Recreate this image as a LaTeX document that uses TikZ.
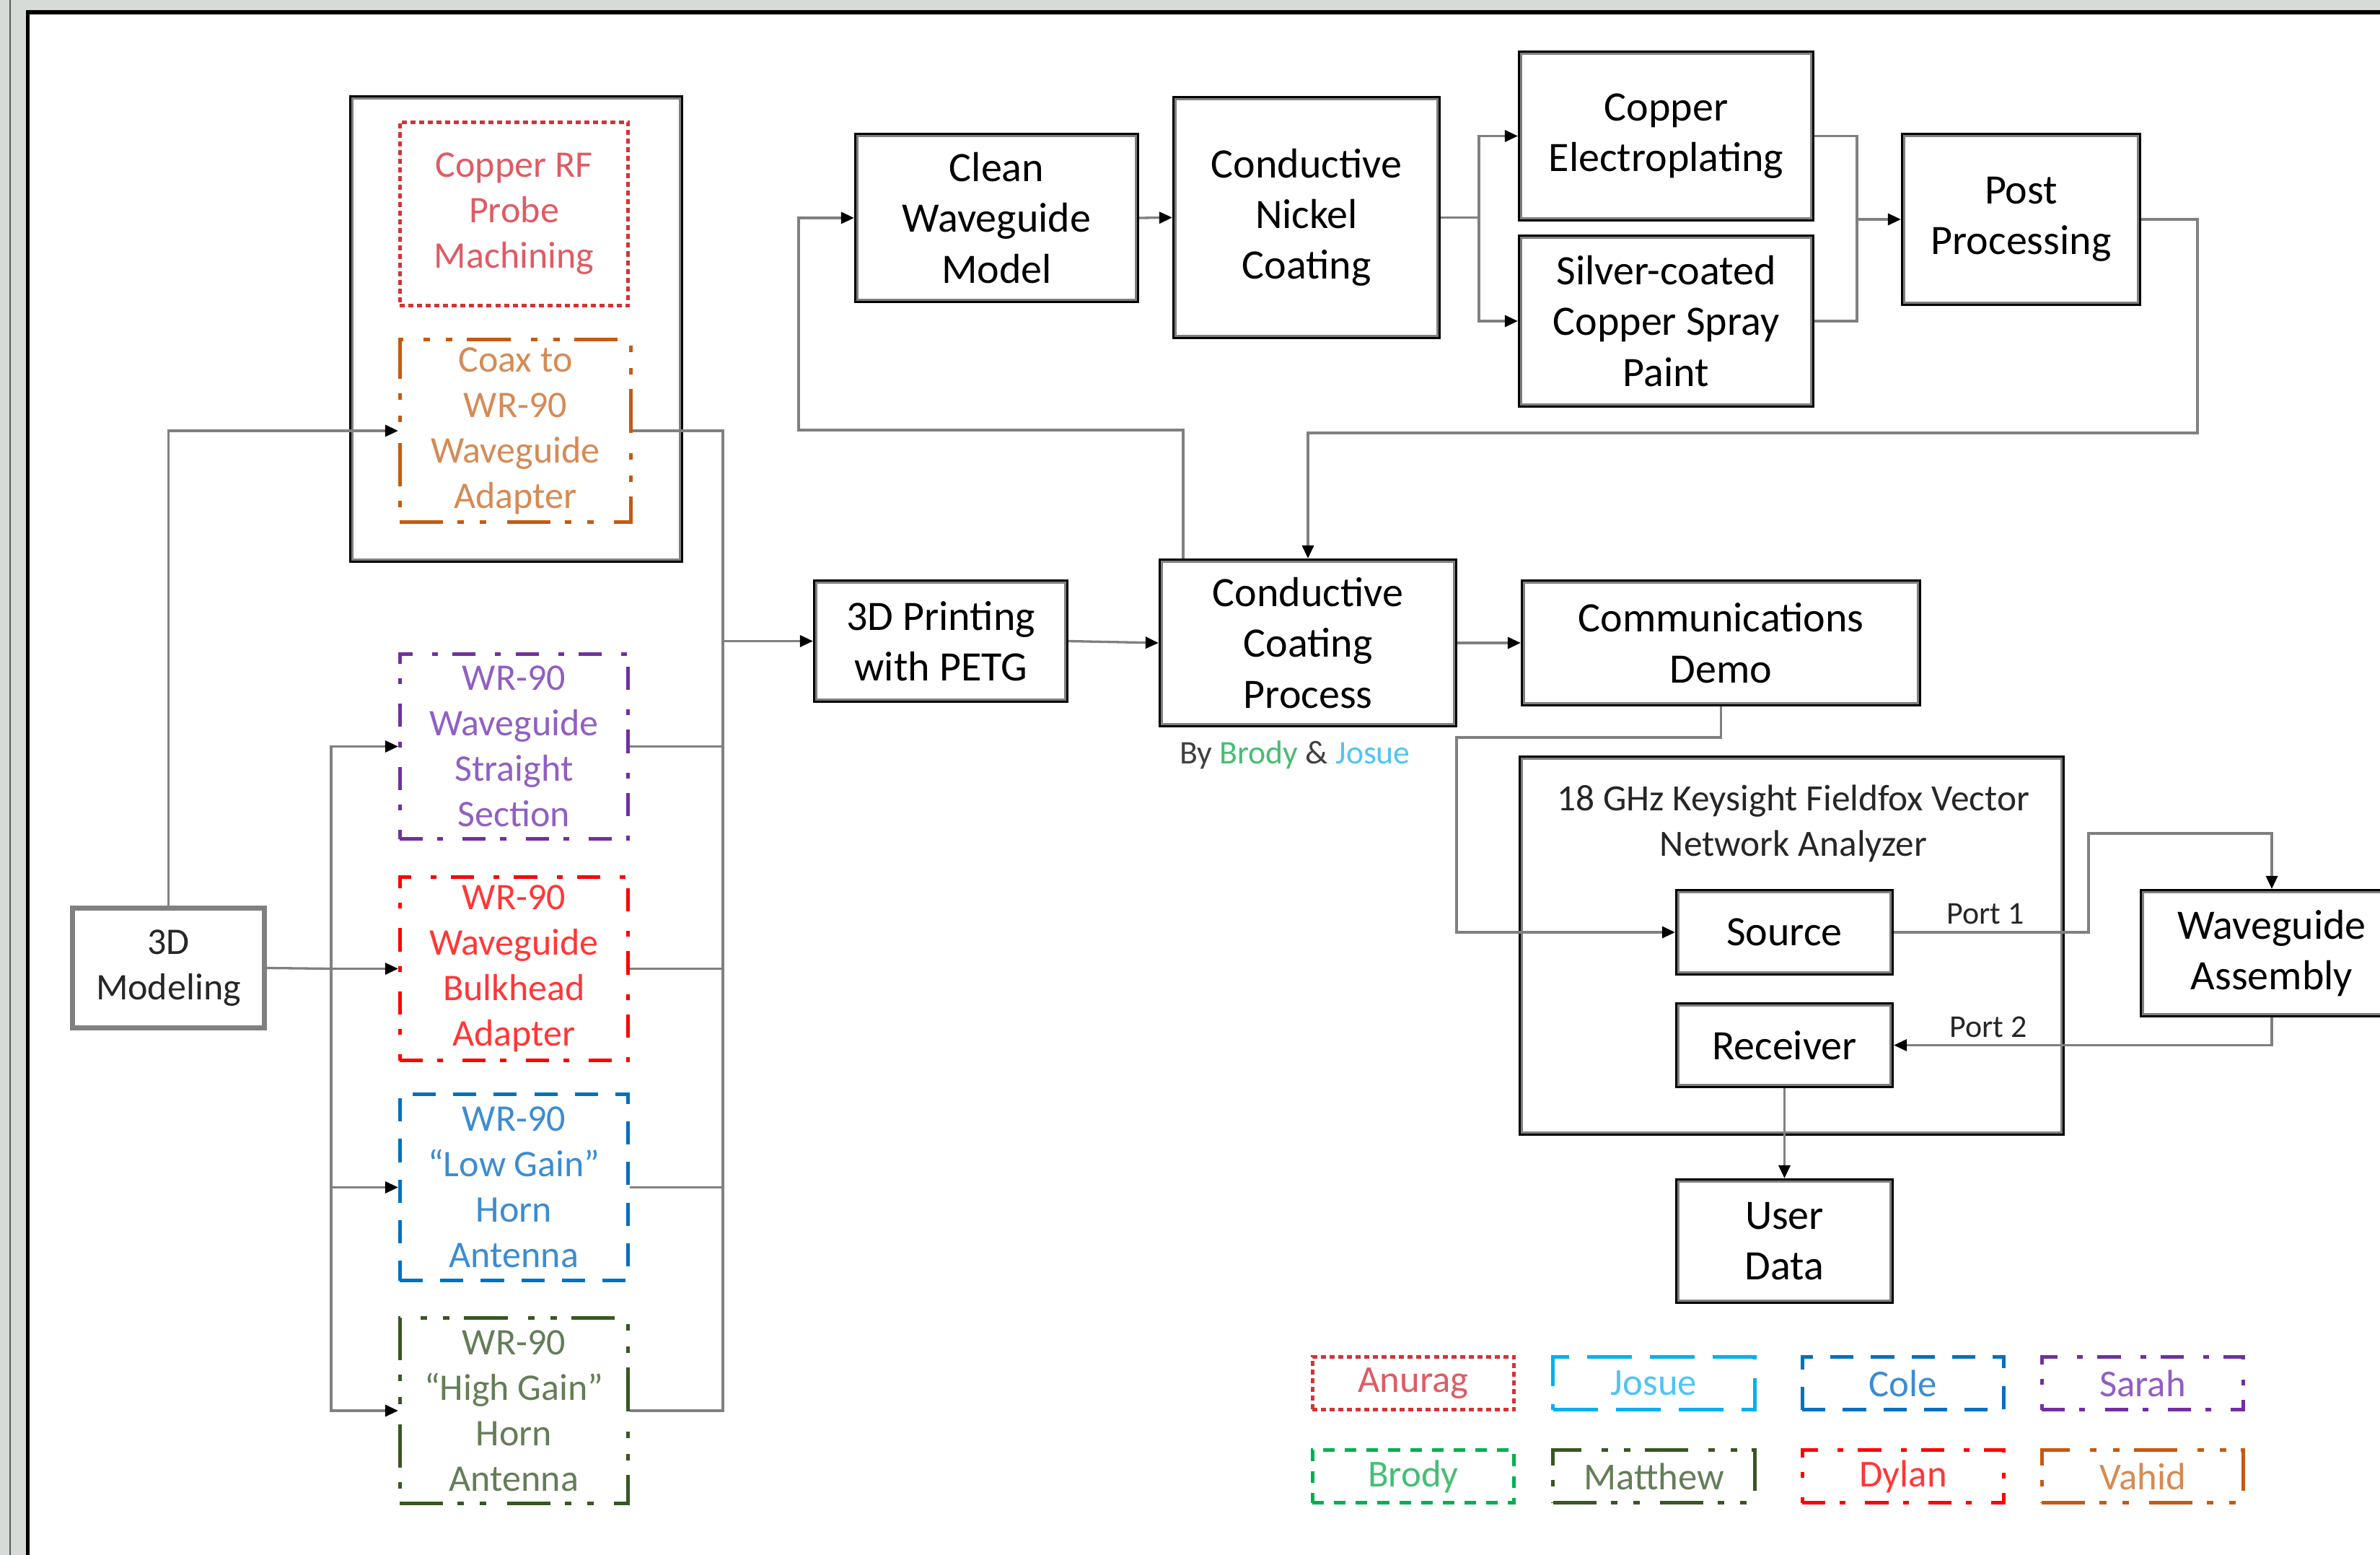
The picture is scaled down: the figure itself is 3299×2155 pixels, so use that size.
\documentclass[tikz,border=0pt]{standalone}
\usepackage{fontspec}
\setmainfont{Carlito}
\usetikzlibrary{arrows.meta,calc}
\definecolor{bandgray}{RGB}{214,219,216}
\definecolor{lngray}{RGB}{128,128,128}
\definecolor{cAnu}{RGB}{209,52,56}
\definecolor{tAnu}{RGB}{222,92,100}
\definecolor{cJos}{RGB}{0,176,240}
\definecolor{tJos}{RGB}{80,196,244}
\definecolor{cCol}{RGB}{0,112,192}
\definecolor{tCol}{RGB}{60,140,210}
\definecolor{cSar}{RGB}{112,48,160}
\definecolor{tSar}{RGB}{145,95,195}
\definecolor{cBro}{RGB}{0,176,80}
\definecolor{tBro}{RGB}{70,190,115}
\definecolor{cMat}{RGB}{56,87,35}
\definecolor{tMat}{RGB}{100,125,88}
\definecolor{cDyl}{RGB}{255,0,0}
\definecolor{tDyl}{RGB}{255,55,55}
\definecolor{cVah}{RGB}{197,90,17}
\definecolor{tVah}{RGB}{214,138,85}
\newcommand\fMain{\fontsize{16.5}{20}\selectfont}
\newcommand\fCol{\fontsize{14.8}{17.9}\selectfont}
\newcommand\fLeg{\fontsize{15}{18}\selectfont}
\newcommand\fVna{\fontsize{14.6}{17.9}\selectfont}
\newcommand\fPort{\fontsize{12.5}{15}\selectfont}
\newcommand\fBy{\fontsize{13}{15}\selectfont}
\newcommand\ingray[1]{\draw[lngray,line width=0.025cm] ([shift={(0.045cm,-0.045cm)}]#1.north west) rectangle ([shift={(-0.045cm,0.045cm)}]#1.south east);}
\begin{document}
\begin{tikzpicture}[x=0.01cm,y=-0.01cm,
  mbox/.style={draw=black,line width=0.06cm,fill=white,inner sep=0pt,align=center,font=\fMain,text=black},
  cbox/.style={line width=0.05cm,inner sep=0pt,align=center,font=\fCol,minimum width=3.16cm},
  lbox/.style={line width=0.05cm,inner sep=0pt,align=center,font=\fLeg,minimum width=2.79cm,minimum height=0.73cm},
  conn/.style={draw=lngray,line width=0.033cm},
  arr/.style={conn,-{Triangle[length=0.18cm,width=0.16cm,color=black]}},
  sqdot/.style={dash pattern=on 0.07cm off 0.05cm},
  bigdot/.style={dash pattern=on 0.16cm off 0.14cm},
  longdsh/.style={dash pattern=on 0.62cm off 0.25cm},
  shortdsh/.style={dash pattern=on 0.32cm off 0.24cm},
  dshdot/.style={dash pattern=on 0.32cm off 0.2cm on 0.08cm off 0.27cm},
  ldshdd/.style={dash pattern=on 0.6cm off 0.2cm on 0.09cm off 0.22cm on 0.09cm off 0.28cm}]
\clip (0,0) rectangle (3299,2155);
% frame
\fill[white] (0,0) rectangle (3299,2155);
\fill[bandgray] (0,0) rectangle (3299,14);
\fill[bandgray] (0,0) rectangle (36,2155);
\draw[black!65,line width=0.015cm] (14,0) -- (14,2155);
\draw[black,line width=0.06cm] (36,17) -- (3299,17);
\draw[black,line width=0.05cm] (38.5,14) -- (38.5,2155);

% group box and left column
\node[mbox,minimum width=4.57cm,minimum height=6.42cm] (grp) at (715.5,456) {};
\ingray{grp}
\node[cbox,draw=cAnu,sqdot,text=tAnu,minimum height=2.54cm] (crf) at (712.5,296.5) {Copper RF\\Probe\\Machining};
\node[cbox,draw=cVah,ldshdd,text=tVah,minimum width=3.20cm,minimum height=2.53cm] (coax) at (714.5,597) {Coax to\\WR-90\\Waveguide\\Adapter};
\node[cbox,draw=cSar,dshdot,text=tSar,minimum height=2.56cm] (ws) at (712.5,1034.5) {WR-90\\Waveguide\\Straight\\Section};
\node[cbox,draw=cDyl,dshdot,text=tDyl,minimum height=2.54cm] (wb) at (712.5,1342.5) {WR-90\\Waveguide\\Bulkhead\\Adapter};
\node[cbox,draw=cCol,shortdsh,text=tCol,minimum height=2.58cm] (lg) at (712.5,1645.5) {WR-90\\“Low Gain”\\Horn\\Antenna};
\node[cbox,draw=cMat,ldshdd,text=tMat,minimum height=2.57cm] (hg) at (712.5,1955) {WR-90\\“High Gain”\\Horn\\Antenna};
\node[draw=lngray,line width=0.07cm,inner sep=0pt,align=center,font=\fCol,text=black!85,minimum width=2.66cm,minimum height=1.66cm] (m3d) at (233.5,1341.5) {3D\\Modeling};

% process boxes
\node[mbox,minimum width=3.48cm,minimum height=1.65cm] (p3d) at (1304,888.5) {3D Printing\\with PETG};
\node[mbox,minimum width=3.89cm,minimum height=2.30cm] (cwm) at (1381.5,302) {Clean\\Waveguide\\Model};
\node[mbox,minimum width=3.66cm,minimum height=3.31cm] (cnc) at (1811,301.5) {Conductive\\Nickel\\Coating};
\node[mbox,minimum width=4.05cm,minimum height=2.31cm] (cep) at (2309.5,188.5) {Copper\\Electroplating};
\node[mbox,minimum width=4.05cm,minimum height=2.34cm] (scs) at (2309.5,445) {Silver-coated\\Copper Spray\\Paint};
\node[mbox,minimum width=3.27cm,minimum height=2.34cm] (pp) at (2801.5,304) {Post\\Processing};
\node[mbox,minimum width=4.08cm,minimum height=2.28cm] (ccp) at (1813,891) {Conductive\\Coating\\Process};
\node[mbox,minimum width=5.49cm,minimum height=1.70cm] (cd) at (2385.5,891) {Communications\\Demo};
\node[mbox,minimum width=7.51cm,minimum height=5.21cm] (vna) at (2483.5,1310.5) {};
\node[mbox,minimum width=2.97cm,minimum height=1.14cm] (src) at (2473.5,1292) {Source};
\node[mbox,minimum width=2.97cm,minimum height=1.13cm] (rcv) at (2473.5,1448.5) {Receiver};
\node[mbox,minimum width=2.97cm,minimum height=1.68cm] (ud) at (2473.5,1720) {User\\Data};
\node[mbox,minimum width=3.60cm,minimum height=1.72cm] (wa) at (3149,1321) {Waveguide\\Assembly};
\foreach \n in {p3d,cwm,cnc,cep,scs,pp,ccp,cd,vna,src,rcv,ud,wa}{\ingray{\n}}

\node[align=center,font=\fVna,text=black!85,inner sep=0pt] (vnat) at (2486,1141) {18 GHz Keysight Fieldfox Vector\\Network Analyzer};
\node[font=\fBy,text=black!75,inner sep=0pt] (by) at (1795,1046) {By {\color{tBro}Brody} \& {\color{tJos}Josue}};
\node[font=\fPort,text=black!85,inner sep=0pt] (p1) at (2752,1267) {Port 1};
\node[font=\fPort,text=black!85,inner sep=0pt] (p2) at (2756,1423) {Port 2};

% connectors: left side
\draw[arr] (m3d.north) |- (coax.west);
\coordinate (busL) at (459,1342.5);
\draw[conn] (m3d.east) -- (busL);
\draw[arr] (busL) |- (ws.west);
\draw[arr] (busL) -- (wb.west);
\draw[arr] (busL) |- (lg.west);
\draw[arr] (busL) |- (hg.west);
\coordinate (busR) at (1002,888.5);
\draw[conn] (coax.east) -| (busR);
\draw[conn] (ws.east) -| (busR);
\draw[conn] (wb.east) -| (busR);
\draw[conn] (lg.east) -| (busR);
\draw[conn] (hg.east) -| (busR);
\draw[arr] (busR) -- (p3d.west);
\draw[arr] (p3d.east) -- (ccp.west);

% coating loop
\coordinate (ccpTop) at (1640,774);
\coordinate (c1) at (1107,596);
\draw[arr] (ccpTop) |- (c1) |- (cwm.west);
\draw[arr] (cwm.east) -- (cnc.west);
\coordinate (spl) at (2050,301.5);
\draw[conn] (cnc.east) -- (spl);
\draw[arr] (spl) |- (cep.west);
\draw[arr] (spl) |- (scs.west);
\coordinate (mrg) at (2574,304);
\draw[conn] (cep.east) -| (mrg);
\draw[conn] (scs.east) -| (mrg);
\draw[arr] (mrg) -- (pp.west);
\coordinate (c2) at (3046,600);
\draw[arr] (pp.east) -| (c2) -| (ccp.north);
\draw[arr] (ccp.east) -- (cd.west);

% VNA connectors
\coordinate (c3) at (2019,1022);
\draw[arr] (cd.south) |- (c3) |- (src.west);
\coordinate (c4) at (2895,1155);
\draw[arr] (src.east) -| (c4) -| (wa.north);
\draw[arr] (wa.south) |- (rcv.east);
\draw[arr] (rcv.south) -- (ud.north);

% legend
\node[lbox,draw=cAnu,sqdot,text=tAnu] (lAnu) at (1959,1917) {Anurag};
\node[lbox,draw=cJos,longdsh,text=tJos] (lJos) at (2292.5,1917) {Josue};
\node[lbox,draw=cCol,shortdsh,text=tCol] (lCol) at (2638,1917) {Cole};
\node[lbox,draw=cSar,dshdot,text=tSar] (lSar) at (2970,1917) {Sarah};
\node[lbox,draw=cBro,bigdot,text=tBro] (lBro) at (1959,2046) {Brody};
\node[lbox,draw=cMat,ldshdd,text=tMat] (lMat) at (2292.5,2046) {Matthew};
\node[lbox,draw=cDyl,dshdot,text=tDyl] (lDyl) at (2638,2046) {Dylan};
\node[lbox,draw=cVah,ldshdd,text=tVah] (lVah) at (2970,2046) {Vahid};
\end{tikzpicture}
\end{document}
